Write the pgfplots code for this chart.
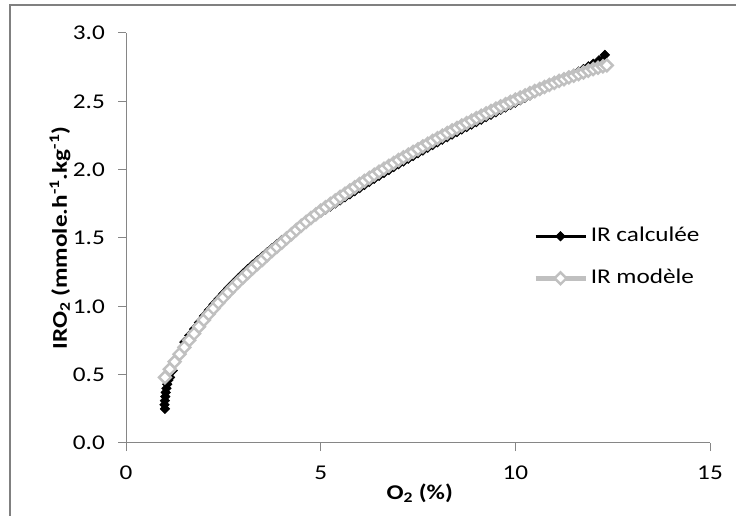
\documentclass[border=0pt]{standalone}
\usepackage{pgfplots}
\pgfplotsset{compat=1.18}
\usepackage{fontspec}
\setmainfont{Carlito}[FakeStretch=1.2]
\definecolor{axisgray}{RGB}{134,134,134}
\definecolor{framegray}{RGB}{128,128,128}
\definecolor{modelgray}{RGB}{192,192,192}
\begin{document}
\fontsize{21}{25}\selectfont
\begin{tikzpicture}
\draw[framegray, line width=2.5pt] (10pt,0pt) -- (10pt,511pt) -- (736pt,511pt);
\begin{axis}[
  at={(126pt,73pt)}, anchor=south west,
  scale only axis, width=584pt, height=410pt,
  xmin=0, xmax=15, ymin=0, ymax=3,
  axis x line*=bottom, axis y line*=left,
  axis line style={draw=axisgray, line width=1pt, -},
  xtick={0,5,10,15}, ytick={0,0.5,...,3},
  tick align=outside, major tick length=8pt,
  tick style={draw=axisgray, line width=1pt},
  /pgf/number format/assume math mode=true,
  ticklabel style={font=\fontsize{21}{25}\selectfont},
  yticklabel style={xshift=-6pt, /pgf/number format/.cd, fixed, fixed zerofill, precision=1},
  xticklabel style={yshift=-8pt},
  xlabel={\bfseries O\textsubscript{2} (\%)},
  ylabel={\bfseries IRO\textsubscript{2} (mmole.h\textsuperscript{-1}.kg\textsuperscript{-1})},
  xlabel style={at={(axis description cs:0.503,-0.122)}, anchor=center, font=\fontsize{21}{25}\selectfont},
  ylabel style={at={(axis description cs:-0.113,0.5)}, anchor=center, font=\fontsize{21}{25}\selectfont},
  legend image code/.code={\draw[mark repeat=2,mark phase=2,#1] plot coordinates {(0pt,0pt) (25pt,0pt) (50pt,0pt)};},
  legend style={at={(0.697,0.534)}, anchor=north west, draw=none, fill=none, inner sep=0pt,
    row sep=18pt, font=\fontsize{21}{25}\selectfont,
    nodes={inner sep=3pt, text height=14pt, text depth=4pt}},
  legend cell align=left,
  clip=false,
]
\addplot[black, line width=3.5pt, mark=square*, mark size=3.4pt,
  mark options={rotate=45, fill=black, draw=black, line width=0.5pt}] coordinates {
(1.00,0.25) (0.99,0.28) (1.00,0.31) (1.01,0.34) (1.02,0.37) (1.04,0.40)
(1.06,0.43) (1.09,0.46) (1.13,0.48) (1.20,0.53) (1.28,0.59) (1.38,0.66)
(1.500,0.738) (1.625,0.786) (1.750,0.833) (1.875,0.881) (2.000,0.928) (2.125,0.971)
(2.250,1.013) (2.375,1.054) (2.500,1.093) (2.625,1.131) (2.750,1.168) (2.875,1.203)
(3.000,1.238) (3.125,1.272) (3.250,1.304) (3.375,1.335) (3.500,1.365) (3.625,1.395)
(3.750,1.425) (3.875,1.455) (4.000,1.485) (4.125,1.512) (4.250,1.538) (4.375,1.566)
(4.500,1.595) (4.625,1.618) (4.750,1.640) (4.875,1.663) (5.000,1.685) (5.125,1.708)
(5.250,1.730) (5.375,1.753) (5.500,1.775) (5.625,1.798) (5.750,1.820) (5.875,1.843)
(6.000,1.865) (6.125,1.888) (6.250,1.910) (6.375,1.933) (6.500,1.955) (6.625,1.976)
(6.750,1.997) (6.875,2.019) (7.000,2.040) (7.125,2.060) (7.250,2.080) (7.375,2.100)
(7.500,2.120) (7.625,2.140) (7.750,2.160) (7.875,2.180) (8.000,2.200) (8.125,2.219)
(8.250,2.238) (8.375,2.257) (8.500,2.275) (8.625,2.294) (8.750,2.312) (8.875,2.330)
(9.000,2.348) (9.125,2.366) (9.250,2.384) (9.375,2.402) (9.500,2.420) (9.625,2.438)
(9.750,2.455) (9.875,2.473) (10.000,2.490) (10.125,2.508) (10.250,2.525) (10.375,2.543)
(10.500,2.560) (10.625,2.578) (10.750,2.595) (10.875,2.613) (11.000,2.630) (11.125,2.648)
(11.250,2.665) (11.375,2.683) (11.500,2.700) (11.625,2.718) (11.750,2.737) (11.875,2.756)
(12.000,2.775) (12.150,2.800) (12.300,2.840)
};
\addlegendentry{IR calculée}
\addplot[modelgray, line width=4.5pt, mark=square*, mark size=4.2pt,
  mark options={rotate=45, fill=white, draw=modelgray, line width=2.4pt}] coordinates {
(1.000,0.480) (1.125,0.540) (1.250,0.595) (1.375,0.650) (1.500,0.700) (1.625,0.752)
(1.750,0.800) (1.875,0.851) (2.000,0.900) (2.125,0.943) (2.250,0.985) (2.375,1.026)
(2.500,1.065) (2.625,1.103) (2.750,1.140) (2.875,1.176) (3.000,1.210) (3.125,1.244)
(3.250,1.277) (3.375,1.309) (3.500,1.340) (3.625,1.373) (3.750,1.405) (3.875,1.435)
(4.000,1.465) (4.125,1.497) (4.250,1.528) (4.375,1.559) (4.500,1.589) (4.625,1.618)
(4.750,1.646) (4.875,1.673) (5.000,1.700) (5.125,1.725) (5.250,1.750) (5.375,1.775)
(5.500,1.800) (5.625,1.824) (5.750,1.848) (5.875,1.872) (6.000,1.895) (6.125,1.918)
(6.250,1.940) (6.375,1.963) (6.500,1.985) (6.625,2.007) (6.750,2.028) (6.875,2.049)
(7.000,2.070) (7.125,2.090) (7.250,2.110) (7.375,2.130) (7.500,2.150) (7.625,2.170)
(7.750,2.190) (7.875,2.210) (8.000,2.230) (8.125,2.249) (8.250,2.268) (8.375,2.287)
(8.500,2.305) (8.625,2.323) (8.750,2.341) (8.875,2.359) (9.000,2.377) (9.125,2.395)
(9.250,2.412) (9.375,2.429) (9.500,2.446) (9.625,2.463) (9.750,2.479) (9.875,2.496)
(10.000,2.512) (10.125,2.528) (10.250,2.544) (10.375,2.560) (10.500,2.575) (10.625,2.590)
(10.750,2.605) (10.875,2.620) (11.000,2.635) (11.125,2.649) (11.250,2.662) (11.375,2.675)
(11.500,2.687) (11.625,2.699) (11.750,2.711) (11.875,2.724) (12.000,2.736) (12.125,2.746)
(12.250,2.756) (12.350,2.763)
};
\addlegendentry{IR modèle}
\end{axis}
\pgfresetboundingbox
\path[use as bounding box] (0pt,0pt) rectangle (736pt,516pt);
\end{tikzpicture}
\end{document}
